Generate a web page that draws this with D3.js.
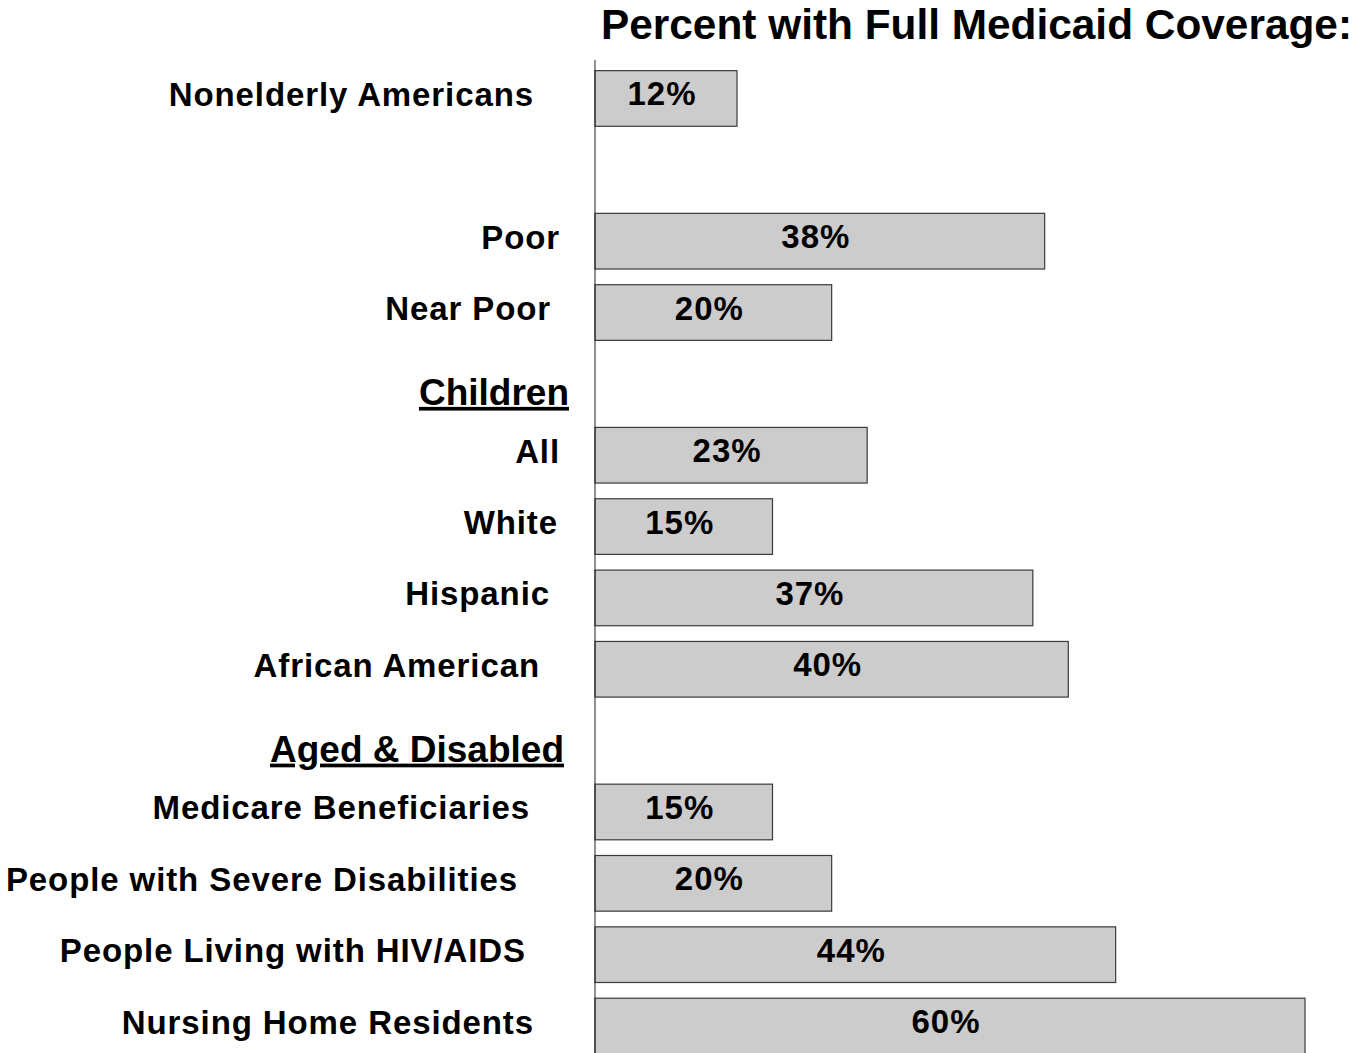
<!DOCTYPE html>
<html>
<head>
<meta charset="utf-8">
<script src="https://cdn.jsdelivr.net/npm/d3@7"></script>
<style>
  html, body { margin: 0; padding: 0; background: #ffffff; }
  svg { display: block; font-family: "Liberation Sans", Arial, Helvetica, sans-serif; font-weight: bold; }
</style>
</head>
<body>
<svg id="chart" width="1359" height="1053"></svg>
<script>
// Rows, top to bottom. Empty string = spacer row, headers carry no value.
const categories = [
  "Nonelderly Americans", "", "Poor", "Near Poor", "Children", "All", "White",
  "Hispanic", "African American", "Aged & Disabled", "Medicare Beneficiaries",
  "People with Severe Disabilities", "People Living with HIV/AIDS", "Nursing Home Residents"
];
// Percent with full Medicaid coverage for each row (null = no bar).
const values = [12, null, 38, 20, null, 23, 15, 37, 40, null, 15, 20, 44, 60];
// Group headings drawn underlined.
const headers = ["Children", "Aged & Disabled"];
const title = "Percent with Full Medicaid Coverage:";

// Right edge of each row label (layout).
const labelRight = [534, 0, 560, 551, 569, 560, 558, 550, 540, 564, 530, 518, 526, 534];

const svg = d3.select("#chart");
const rows = categories.map((c, i) => ({ key: i, label: c, value: values[i], header: headers.includes(c) }));

const x = d3.scaleLinear().domain([0, 60]).range([595, 1305]);
const y = d3.scaleBand()
  .domain(rows.map(r => r.key))
  .range([62.8, 62.8 + 14 * 71.35])
  .paddingInner(0.22)
  .paddingOuter(0.11);
const mid = k => y(k) + y.bandwidth() / 2;

// Title
svg.append("text")
  .attr("x", 601).attr("y", 39)
  .attr("font-size", 42)
  .attr("textLength", 751)
  .attr("lengthAdjust", "spacingAndGlyphs")
  .attr("fill", "#000")
  .text(title);

// Bars
const barRows = rows.filter(r => r.value != null);
svg.selectAll("rect.bar").data(barRows).join("rect")
  .attr("class", "bar")
  .attr("x", x(0))
  .attr("y", d => y(d.key))
  .attr("width", d => x(d.value) - x(0))
  .attr("height", y.bandwidth())
  .attr("fill", "#cccccc")
  .attr("stroke", "#3a3a3a")
  .attr("stroke-width", 1.2);

// Category axis line
svg.append("line")
  .attr("x1", x(0)).attr("x2", x(0))
  .attr("y1", 60).attr("y2", 1053)
  .attr("stroke", "#222").attr("stroke-width", 1);

// Value labels
svg.selectAll("text.val").data(barRows).join("text")
  .attr("class", "val")
  .attr("x", d => (x(0) + x(d.value)) / 2 - 4)
  .attr("y", d => mid(d.key) + 7)
  .attr("text-anchor", "middle")
  .attr("font-size", 33)
  .attr("letter-spacing", 1)
  .attr("fill", "#000")
  .text(d => d.value + "%");

// Row labels
const labelRows = rows.filter(r => r.label && !r.header);
svg.selectAll("text.lab").data(labelRows).join("text")
  .attr("class", "lab")
  .attr("x", d => labelRight[d.key])
  .attr("y", d => mid(d.key) + 7.5)
  .attr("text-anchor", "end")
  .attr("font-size", 33)
  .attr("letter-spacing", 0.9)
  .attr("fill", "#000")
  .text(d => d.label);

// Group headings
svg.selectAll("text.head").data(rows.filter(r => r.header)).join("text")
  .attr("class", "head")
  .attr("x", d => labelRight[d.key])
  .attr("y", d => mid(d.key) + 21)
  .attr("text-anchor", "end")
  .attr("font-size", 37)
  .attr("text-decoration", "underline")
  .attr("fill", "#000")
  .text(d => d.label);
</script>
</body>
</html>
